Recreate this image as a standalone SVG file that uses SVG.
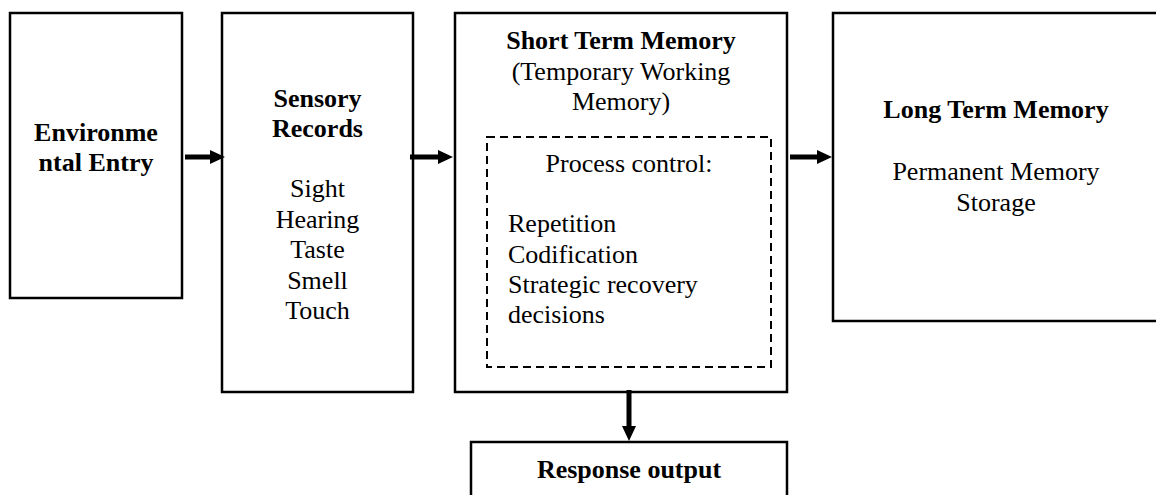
<svg xmlns="http://www.w3.org/2000/svg" width="1156" height="495" viewBox="0 0 1156 495">
<style>
.box{fill:#fff;stroke:#000;stroke-width:2.5}
.dash{fill:none;stroke:#000;stroke-width:2;stroke-dasharray:8 5}
text{font-family:"Liberation Serif","Times New Roman",serif;font-size:26px;fill:#000}
.b{font-weight:bold}
.c{text-anchor:middle}
.arrow{fill:#000}
</style>
<rect width="1156" height="495" fill="#fff"/>
<g id="env">
<rect class="box" x="10" y="13" width="172" height="285"/>
<text class="b c" x="96" y="141">Environme</text>
<text class="b c" x="96" y="171">ntal Entry</text>
</g>
<g id="sensory">
<rect class="box" x="222" y="13" width="191" height="379"/>
<text class="b c" x="317.5" y="107">Sensory</text>
<text class="b c" x="317.5" y="137">Records</text>
<text class="c" x="317.5" y="197">Sight</text>
<text class="c" x="317.5" y="227.5">Hearing</text>
<text class="c" x="317.5" y="258">Taste</text>
<text class="c" x="317.5" y="288.5">Smell</text>
<text class="c" x="317.5" y="319">Touch</text>
</g>
<g id="stm">
<rect class="box" x="455" y="13" width="332" height="379"/>
<text class="b c" x="621" y="49">Short Term Memory</text>
<text class="c" x="621" y="80">(Temporary Working</text>
<text class="c" x="621" y="110">Memory)</text>
<rect class="dash" x="487" y="137" width="284" height="230"/>
<text class="c" x="629" y="172">Process control:</text>
<text x="508" y="232">Repetition</text>
<text x="508" y="262.5">Codification</text>
<text x="508" y="293">Strategic recovery</text>
<text x="508" y="323">decisions</text>
</g>
<g id="ltm">
<rect class="box" x="833" y="13" width="330" height="308"/>
<text class="b c" x="996" y="118">Long Term Memory</text>
<text class="c" x="996" y="180">Permanent Memory</text>
<text class="c" x="996" y="211">Storage</text>
</g>
<g id="response">
<rect class="box" x="471" y="442" width="316" height="70"/>
<text class="b c" x="629" y="478">Response output</text>
</g>
<g id="connectors">
<path class="arrow" d="M185 154.5 H210 V150 L225 157 L210 164 V159.5 H185 Z"/>
<path class="arrow" d="M410 154.5 H438 V150 L453 157 L438 164 V159.5 H410 Z"/>
<path class="arrow" d="M790 154.5 H817 V150 L832 157 L817 164 V159.5 H790 Z"/>
<path class="arrow" d="M626.5 390 V426 H622 L629 441 L636 426 H631.5 V390 Z"/>
</g>
</svg>
